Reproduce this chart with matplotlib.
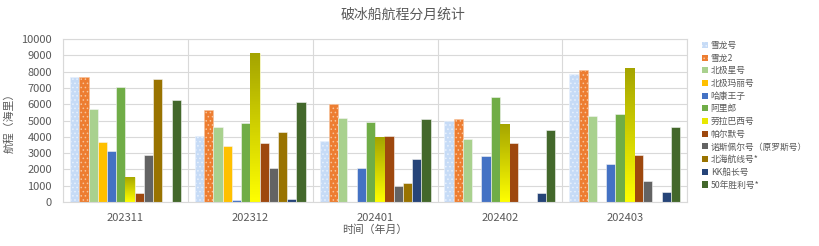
import numpy as np
import matplotlib
matplotlib.use("Agg")
from matplotlib import pyplot as plt
from matplotlib.colors import LinearSegmentedColormap
from matplotlib.patches import Patch

plt.rcParams['font.family'] = ['Noto Sans CJK SC', 'DejaVu Sans']
plt.rcParams['hatch.linewidth'] = 0.6

MONTHS = ["202311", "202312", "202401", "202402", "202403"]

SHIPS = ["雪龙号", "雪龙2", "北极星号", "北极玛丽号", "哈康王子", "阿里郎",
         "劳拉巴西号", "帕尔默号", "诺斯佩尔号（原罗斯号）", "北海航线号*",
         "KK船长号", "50年胜利号*"]

xuelong = [7650, 4060, 3750, 5000, 7860]
xuelong2 = [7670, 5650, 6020, 5080, 8100]
beijixing = [5690, 4630, 5160, 3860, 5290]
beijimali = [3670, 3430, 0, 0, 0]
hakang = [3120, 120, 2060, 2840, 2350]
alilang = [7040, 4860, 4900, 6450, 5390]
laola = [1550, 9140, 3980, 4800, 8240]
paerme = [550, 3650, 4080, 3610, 2880]
nuosi = [2900, 2100, 980, 0, 1310]
beihai = [7550, 4270, 1180, 0, 0]
kk = [0, 180, 2610, 550, 630]
wushinian = [6260, 6140, 5120, 4430, 4630]

values = [xuelong, xuelong2, beijixing, beijimali, hakang, alilang,
          laola, paerme, nuosi, beihai, kk, wushinian]

COLORS = ["#c6dbf6", "#ed7d31", "#a9d18e", "#ffc000", "#4472c4", "#70ad47",
          "#e8e800", "#9e480e", "#636363", "#997300", "#264478", "#43682b"]

TEXT = "#595959"
GRID = "#d9d9d9"

fig = plt.figure(figsize=(8.19, 2.46), dpi=100)
ax = fig.add_axes([0.077, 0.179, 0.762, 0.662])

n = len(SHIPS)
w = 0.074
x = np.arange(len(MONTHS))

for i, vals in enumerate(values):
    pos = x + (i - (n - 1) / 2) * w
    if i == 0:
        bars = ax.bar(pos, vals, w, color=COLORS[i], edgecolor="#e8f1fd",
                      hatch="....", linewidth=0.4, zorder=2)
    elif i == 1:
        bars = ax.bar(pos, vals, w, color=COLORS[i], edgecolor="#f7c49c",
                      hatch="....", linewidth=0.4, zorder=2)
    else:
        bars = ax.bar(pos, vals, w, color=COLORS[i], edgecolor="#f4f4f4",
                      linewidth=0.4, zorder=2)
    if i == 6:
        # 劳拉巴西号: 渐变填充
        cmap = LinearSegmentedColormap.from_list("laola", ["#ffff00", "#a4a400"])
        grad = np.linspace(0, 1, 256).reshape(-1, 1)
        for b in bars:
            h = b.get_height()
            if h <= 0:
                continue
            im = ax.imshow(grad, cmap=cmap, origin="lower", aspect="auto",
                           extent=[b.get_x(), b.get_x() + b.get_width(), 0, h],
                           zorder=2.5)
            im.set_clip_path(b)

ax.set_xlim(-0.5, len(MONTHS) - 0.5)
ax.set_ylim(0, 10000)
ax.set_yticks(np.arange(0, 10001, 1000))
ax.set_xticks(x)
ax.set_xticklabels(MONTHS)
ax.set_xticks(np.arange(-0.5, len(MONTHS), 1), minor=True)
ax.grid(axis="y", color=GRID, linewidth=0.8, zorder=0)
ax.grid(axis="x", which="minor", color=GRID, linewidth=0.8, zorder=0)
ax.tick_params(axis="both", which="both", length=0, colors=TEXT, labelsize=8)
ax.tick_params(axis="y", pad=8)
ax.tick_params(axis="x", pad=8)
for s in ax.spines.values():
    s.set_color(GRID)
    s.set_linewidth(0.8)

ax.set_xlabel("时间（年月）", fontsize=7.8, color=TEXT, labelpad=1)
ax.set_ylabel("航程（海里）", fontsize=7.8, color=TEXT, labelpad=5)

fig.text(0.492, 0.94, "破冰船航程分月统计", fontsize=10, color=TEXT,
         ha="center", va="center")

handles = [Patch(facecolor=c, edgecolor="none") for c in COLORS]
handles[0] = Patch(facecolor=COLORS[0], edgecolor="#e8f1fd", hatch="....", linewidth=0)
handles[1] = Patch(facecolor=COLORS[1], edgecolor="#f7c49c", hatch="....", linewidth=0)
leg = fig.legend(handles, SHIPS, loc="upper left", bbox_to_anchor=(0.857, 0.833),
                 frameon=False, fontsize=6.3, handlelength=0.7, handleheight=0.7,
                 handletextpad=0.3, labelspacing=0.42, borderaxespad=0,
                 borderpad=0)
for t in leg.get_texts():
    t.set_color(TEXT)

fig.savefig("out.png", dpi=100)
